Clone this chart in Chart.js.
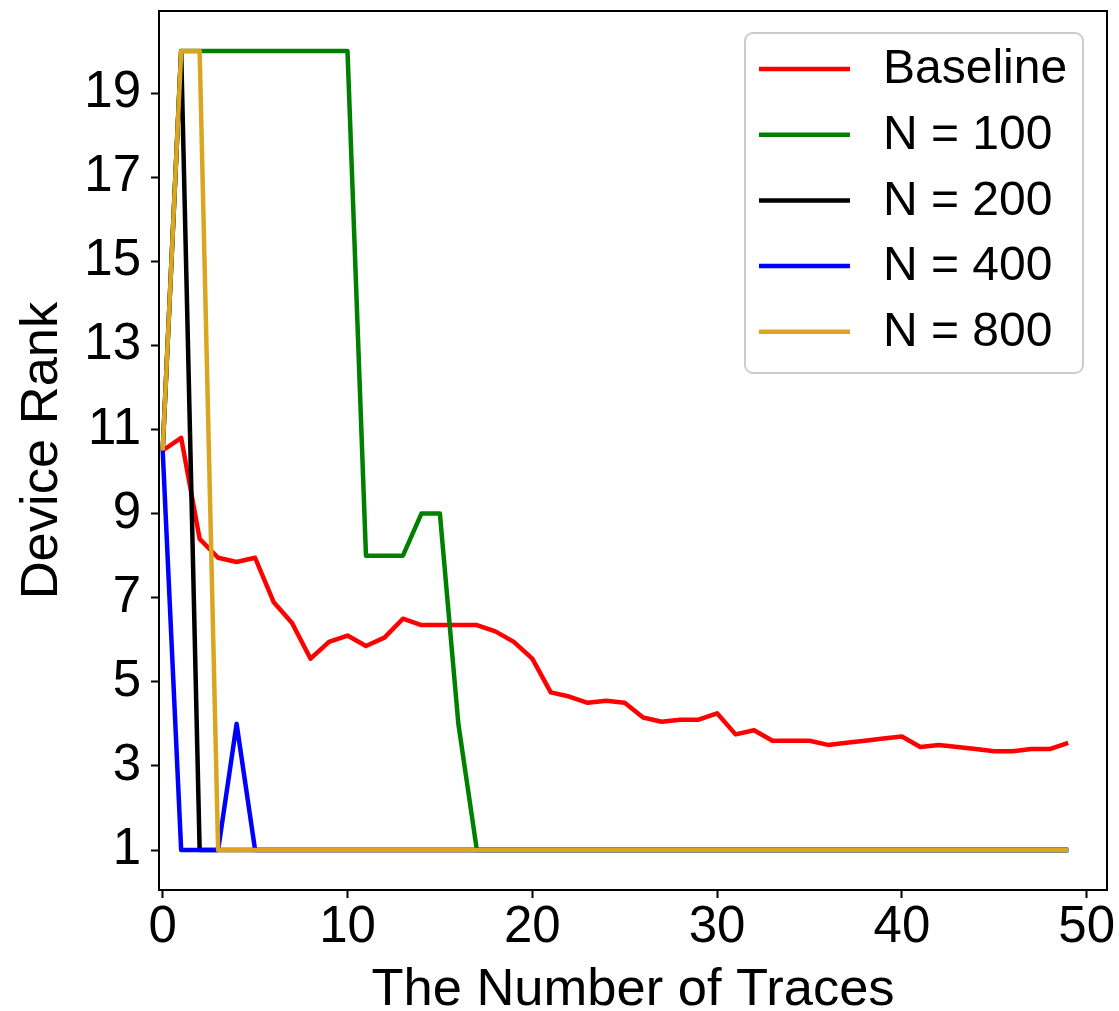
<!DOCTYPE html>
<html>
<head>
<meta charset="utf-8">
<script src="https://cdn.jsdelivr.net/npm/chart.js@4.4.1/dist/chart.umd.min.js"></script>
<style>
  body { margin: 0; background: #fff; }
</style>
</head>
<body>
<canvas id="rank-chart" width="1119" height="1011"></canvas>
<script>
// ====== DATA ======
const traces = [0, 1, 2, 3, 4, 5, 6, 7, 8, 9, 10, 11, 12, 13, 14, 15, 16, 17, 18, 19,
  20, 21, 22, 23, 24, 25, 26, 27, 28, 29, 30, 31, 32, 33, 34, 35, 36, 37, 38, 39,
  40, 41, 42, 43, 44, 45, 46, 47, 48, 49];

const baseline = [10.5, 10.8, 8.4, 7.95, 7.85, 7.95, 6.9, 6.4, 5.55, 5.95,
  6.1, 5.85, 6.05, 6.5, 6.35, 6.35, 6.35, 6.35, 6.2, 5.95,
  5.55, 4.75, 4.65, 4.5, 4.55, 4.5, 4.15, 4.05, 4.1, 4.1,
  4.25, 3.75, 3.85, 3.6, 3.6, 3.6, 3.5, 3.55, 3.6, 3.65,
  3.7, 3.45, 3.5, 3.45, 3.4, 3.35, 3.35, 3.4, 3.4, 3.55];

const n100 = [10.5, 20, 20, 20, 20, 20, 20, 20, 20, 20,
  20, 8, 8, 8, 9, 9, 4, 1, 1, 1,
  1, 1, 1, 1, 1, 1, 1, 1, 1, 1,
  1, 1, 1, 1, 1, 1, 1, 1, 1, 1,
  1, 1, 1, 1, 1, 1, 1, 1, 1, 1];

const n200 = [10.5, 20, 1, 1, 1, 1, 1, 1, 1, 1,
  1, 1, 1, 1, 1, 1, 1, 1, 1, 1,
  1, 1, 1, 1, 1, 1, 1, 1, 1, 1,
  1, 1, 1, 1, 1, 1, 1, 1, 1, 1,
  1, 1, 1, 1, 1, 1, 1, 1, 1, 1];

const n400 = [10.5, 1, 1, 1, 4, 1, 1, 1, 1, 1,
  1, 1, 1, 1, 1, 1, 1, 1, 1, 1,
  1, 1, 1, 1, 1, 1, 1, 1, 1, 1,
  1, 1, 1, 1, 1, 1, 1, 1, 1, 1,
  1, 1, 1, 1, 1, 1, 1, 1, 1, 1];

const n800 = [10.5, 20, 20, 1, 1, 1, 1, 1, 1, 1,
  1, 1, 1, 1, 1, 1, 1, 1, 1, 1,
  1, 1, 1, 1, 1, 1, 1, 1, 1, 1,
  1, 1, 1, 1, 1, 1, 1, 1, 1, 1,
  1, 1, 1, 1, 1, 1, 1, 1, 1, 1];

const seriesLabels = ['Baseline', 'N = 100', 'N = 200', 'N = 400', 'N = 800'];
const seriesColors = ['#ff0000', '#008000', '#000000', '#0000ff', '#daa520'];
const xTicks = [0, 10, 20, 30, 40, 50];
const yTicks = [1, 3, 5, 7, 9, 11, 13, 15, 17, 19];

const FONT = '"Liberation Sans", Arial, Helvetica, sans-serif';

// ====== HELPERS ======
function toPoints(values) {
  return traces.map((t, i) => ({ x: t, y: values[i] }));
}

// frame around the plot area (matplotlib spines)
const frame = {
  id: 'frame',
  afterDatasetsDraw(chart) {
    const { ctx, chartArea: a } = chart;
    ctx.save();
    ctx.strokeStyle = '#000';
    ctx.lineWidth = 2;
    ctx.strokeRect(a.left, a.top, a.right - a.left, a.bottom - a.top);
    ctx.restore();
  }
};

// legend box in the upper right corner of the plot
const legendBox = {
  id: 'legendBox',
  afterDraw(chart) {
    const { ctx, chartArea: a } = chart;
    const w = 338, h = 340;
    const x0 = a.right - 24 - w;
    const y0 = a.top + 22;

    ctx.save();
    ctx.beginPath();
    ctx.roundRect(x0, y0, w, h, 8);
    ctx.fillStyle = 'rgba(255,255,255,0.8)';
    ctx.fill();
    ctx.strokeStyle = '#cccccc';
    ctx.lineWidth = 2;
    ctx.stroke();

    ctx.font = '48px ' + FONT;
    ctx.textBaseline = 'middle';
    ctx.textAlign = 'left';
    chart.data.datasets.forEach((ds, i) => {
      const cy = y0 + 36 + i * 65.7;
      ctx.beginPath();
      ctx.moveTo(x0 + 14, cy);
      ctx.lineTo(x0 + 105, cy);
      ctx.strokeStyle = ds.borderColor;
      ctx.lineWidth = 4.5;
      ctx.stroke();
      ctx.fillStyle = '#000';
      ctx.fillText(ds.label, x0 + 138, cy + 1);
    });
    ctx.restore();
  }
};

// ====== CHART ======
const datasetValues = [baseline, n100, n200, n400, n800];

const chart = new Chart(document.getElementById('rank-chart'), {
  type: 'line',
  data: {
    datasets: datasetValues.map((vals, i) => ({
      label: seriesLabels[i],
      data: toPoints(vals),
      borderColor: seriesColors[i],
      backgroundColor: seriesColors[i],
      borderWidth: 4.5,
      pointRadius: 0,
      tension: 0,
      borderJoinStyle: 'round',
      order: datasetValues.length - 1 - i // later series on top
    }))
  },
  options: {
    responsive: false,
    animation: false,
    layout: { padding: { top: 11, right: 12, left: 0, bottom: 0 } },
    plugins: {
      legend: { display: false },
      tooltip: { enabled: false }
    },
    scales: {
      x: {
        type: 'linear',
        min: -0.2,
        max: 51.1,
        afterBuildTicks: (scale) => { scale.ticks = xTicks.map(v => ({ value: v })); },
        afterFit: (scale) => {
          scale.height = 121;
          scale.paddingLeft = 0;
          scale.paddingRight = 0;
        },
        grid: { drawOnChartArea: false, drawTicks: true, tickLength: 8, tickWidth: 2, tickColor: '#000' },
        border: { display: false },
        ticks: { color: '#000', padding: 4, font: { family: FONT, size: 51, lineHeight: 1 } },
        title: {
          display: true,
          text: 'The Number of Traces',
          color: '#000',
          font: { family: FONT, size: 52.5, lineHeight: 0.6 },
          padding: { top: 0, bottom: 5 }
        }
      },
      y: {
        min: 0.05,
        max: 20.95,
        afterBuildTicks: (scale) => { scale.ticks = yTicks.map(v => ({ value: v })); },
        afterFit: (scale) => {
          scale.width = 159;
          scale.paddingTop = 0;
          scale.paddingBottom = 0;
        },
        grid: { drawOnChartArea: false, drawTicks: true, tickLength: 8, tickWidth: 2, tickColor: '#000' },
        border: { display: false },
        ticks: { color: '#000', padding: 10, font: { family: FONT, size: 51 } },
        title: {
          display: true,
          text: 'Device Rank',
          color: '#000',
          font: { family: FONT, size: 52.5, lineHeight: 1 },
          padding: { top: 16, bottom: 0 }
        }
      }
    }
  },
  plugins: [frame, legendBox]
});
</script>
</body>
</html>
